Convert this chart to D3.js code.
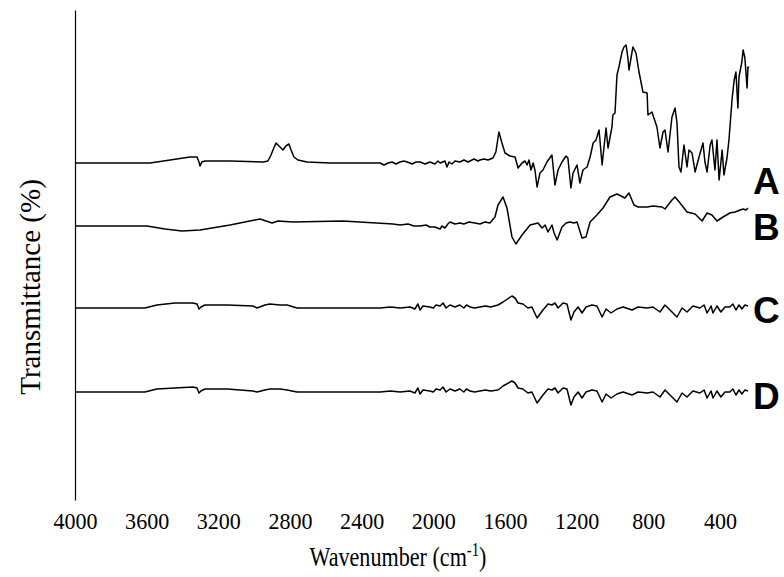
<!DOCTYPE html>
<html>
<head>
<meta charset="utf-8">
<script src="https://cdn.jsdelivr.net/npm/d3@7"></script>
<style>
  body { margin: 0; background: #fff; }
  svg { display: block; }
</style>
</head>
<body>
<svg id="chart"></svg>
<script>
// FTIR spectra, [wavenumber, offset transmittance (arb.)]
const spectrumA = [
  [4000,337],[3581,337],[3469,340],[3358,343],[3319,343],[3308,338],[3302,334],[3292,338],[3275,339],
  [3135,339],[2950,338],[2923,339],[2906,345],[2895,350],[2878,357],[2861,354],[2839,350],[2823,354],
  [2806,356],[2794,350],[2778,343],[2756,340],[2705,338],[2577,337],[2297,337],[2275,335],[2253,337],
  [2231,338],[2208,336],[2186,338],[2164,339],[2130,337],[2119,336],[2097,338],[2074,338],[2046,336],
  [2019,338],[1991,336],[1974,339],[1962,337],[1935,339],[1924,333],[1912,338],[1896,336],[1879,339],
  [1852,338],[1829,340],[1806,338],[1795,339],[1773,341],[1751,339],[1740,340],[1717,341],[1695,340],
  [1667,342],[1651,348],[1634,368],[1617,357],
  [1600,347],[1572,344],[1544,343],[1527,332],[1505,337],[1488,339],[1477,335],[1466,340],[1455,330],
  [1443,337],[1433,330],[1421,313],[1405,327],[1388,330],[1366,338],[1338,345],[1321,315],[1304,330],
  [1282,338],[1259,344],[1249,342],[1232,312],[1220,327],[1198,335],[1182,317],[1165,330],[1142,333],
  [1125,343],[1108,357],[1092,360],[1075,370],[1058,335],[1036,372],[1025,352],[1003,373],[998,385],
  [986,387],[975,425],[964,433],[947,448],[936,453],[924,455],[914,442],[908,430],[891,448],
  [886,453],[869,447],[852,428],[830,408],[807,407],[802,385],[780,388],[752,373],[735,352],[718,368],
  [707,370],[690,348],[668,383],[651,392],[640,377],[629,333],[618,328],[601,355],[584,333],[573,350],
  [556,347],[539,328],[517,343],[495,357],[484,338],[472,328],[455,355],[445,360],[428,330],[417,360],
  [405,320],[388,350],[378,325],[361,342],[350,360],[333,400],[321,420],[311,428],[300,392],[294,423],
  [278,438],[271,450],[261,442],[249,412],[244,433],[238,432]
];

const spectrumB = [
  [4000,274],[3598,274],[3498,271],[3402,269],[3302,270],[3135,275],[3024,279],[2967,281],[2934,279],
  [2900,277],[2867,279],[2783,278],[2505,279],[2225,276],[2186,275],[2141,276],[2108,274],[2074,274],
  [2041,275],[2019,273],[1991,273],[1962,271],[1952,274],[1935,272],[1919,276],[1907,278],[1879,276],
  [1852,277],[1830,276],[1800,278],[1768,277],[1740,276],[1712,278],[1684,277],[1656,283],[1639,295],
  [1611,303],[1589,292],[1561,263],[1539,256],[1505,265],[1460,275],[1416,277],[1393,272],[1376,275],
  [1360,268],[1338,275],[1326,267],[1309,260],[1282,273],[1259,277],[1237,278],[1215,277],[1198,278],
  [1170,262],[1148,263],[1125,278],[1087,285],[1053,292],[1014,303],[975,306],[931,302],[908,307],
  [880,295],[857,293],[807,293],[774,294],[723,293],[707,291],[668,300],[651,303],[623,297],[584,288],
  [539,286],[500,279],[472,287],[445,285],[417,279],[383,283],[345,287],[316,288],[288,290],[271,291],
  [254,290],[244,292]
];

const spectrumC = [
  [4000,192],[3610,192],[3543,195],[3442,197],[3342,197],[3319,196],[3308,191],[3297,193],[3275,195],
  [3151,195],[3007,194],[2984,192],[2940,195],[2912,196],[2856,195],[2816,195],[2761,192],[2297,192],
  [2240,193],[2186,192],[2130,193],[2103,191],[2086,196],[2074,190],[2058,194],[2019,193],[2000,192],
  [1985,195],[1962,194],[1946,197],[1929,192],[1907,195],[1879,193],[1852,195],[1830,192],[1815,195],
  [1795,193],[1770,192],[1740,193],[1710,194],[1680,193],[1639,195],[1611,198],[1561,204],
  [1544,202],[1527,197],[1500,196],[1472,192],[1450,193],[1421,182],[1388,190],[1360,196],[1338,195],
  [1321,197],[1304,192],[1276,197],[1254,196],[1232,180],[1215,188],[1192,193],[1170,187],[1148,193],
  [1115,195],[1087,194],[1058,183],[1036,191],[1008,187],[975,191],[941,193],[891,190],[857,193],
  [807,192],[774,193],[735,188],[707,195],[679,190],[640,183],[612,192],[584,188],[551,194],[512,192],
  [489,195],[472,187],[450,194],[439,187],[417,194],[395,188],[372,193],[345,193],[328,196],[311,190],
  [294,195],[278,191],[261,195],[244,194]
];

const spectrumD = [
  [4000,108],[3610,108],[3543,111],[3442,112],[3342,113],[3319,112],[3308,107],[3297,109],[3275,111],
  [3151,111],[3007,109],[2984,108],[2940,110],[2912,111],[2856,111],[2816,110],[2761,108],[2297,108],
  [2240,109],[2186,108],[2130,109],[2103,107],[2086,112],[2074,106],[2058,110],[2019,109],[2000,108],
  [1985,111],[1962,110],[1946,113],[1929,108],[1907,111],[1879,109],[1852,111],[1830,108],[1815,111],
  [1795,109],[1770,108],[1740,109],[1710,110],[1680,109],[1639,110],[1611,114],[1561,119],
  [1544,117],[1527,112],[1500,111],[1472,107],[1450,108],[1421,97],[1388,105],[1360,111],[1338,110],
  [1321,112],[1304,107],[1276,112],[1254,111],[1232,95],[1215,103],[1192,108],[1170,102],[1148,108],
  [1115,110],[1087,109],[1058,98],[1036,106],[1008,102],[975,106],[941,108],[891,105],[857,108],
  [807,107],[774,108],[735,103],[707,110],[679,105],[640,98],[612,107],[584,103],[551,109],[512,107],
  [489,110],[472,102],[450,109],[439,102],[417,109],[395,103],[372,108],[345,108],[328,111],[311,105],
  [294,110],[278,106],[261,110],[244,109]
];

const seriesNames = ["A", "B", "C", "D"];
const xTicks = [4000, 3600, 3200, 2800, 2400, 2000, 1600, 1200, 800, 400];

document.addEventListener('DOMContentLoaded', function () {
    const W = 784, H = 577;
    const margin = { top: 10, right: 64, bottom: 77, left: 75 };
    const serif = "'Liberation Serif', 'Times New Roman', serif";

    const svg = d3.select("#chart")
        .attr("width", W)
        .attr("height", H);

    const x = d3.scaleLinear()
        .domain([4000, 400])
        .range([margin.left, W - margin.right]);

    const y = d3.scaleLinear()
        .domain([0, 490])
        .range([H - margin.bottom, margin.top]);

    const line = d3.line()
        .x(d => x(d[0]))
        .y(d => y(d[1]));

    // y axis, no ticks
    svg.append("g")
        .attr("transform", `translate(${margin.left},0)`)
        .call(d3.axisLeft(y).tickValues([]).tickSizeOuter(0))
        .select(".domain")
        .attr("stroke", "#000")
        .attr("stroke-width", 1.2);

    // x tick labels only (no axis line in the figure)
    const xAxis = svg.append("g")
        .attr("transform", "translate(0,529)")
        .call(d3.axisBottom(x).tickValues(xTicks).tickSize(0).tickFormat(d3.format("d")));
    xAxis.select(".domain").remove();
    xAxis.selectAll("text")
        .attr("y", 0)
        .attr("dy", 0)
        .attr("transform", "scale(0.92,1)")
        .attr("font-family", serif)
        .attr("font-size", 24)
        .attr("fill", "#000");

    const spectra = [spectrumA, spectrumB, spectrumC, spectrumD];
    const labelDrop = [31, 14, 15, 17];
    spectra.forEach((s, i) => {
        svg.append("path")
            .datum(s)
            .attr("d", line)
            .attr("fill", "none")
            .attr("stroke", "#000")
            .attr("stroke-width", 1.5)
            .attr("stroke-linejoin", "round");

        svg.append("text")
            .attr("x", 753)
            .attr("y", y(s[0][1]) + labelDrop[i])
            .attr("font-family", "'Liberation Sans', Arial, sans-serif")
            .attr("font-weight", "bold")
            .attr("font-size", 37)
            .text(seriesNames[i]);
    });

    // axis titles
    svg.append("text")
        .attr("transform", "translate(40,287) rotate(-90)")
        .attr("text-anchor", "middle")
        .attr("font-family", serif)
        .attr("font-size", 29)
        .text("Transmittance (%)");

    const xt = svg.append("text")
        .attr("transform", "translate(398,566) scale(0.82,1)")
        .attr("text-anchor", "middle")
        .attr("font-family", serif)
        .attr("font-size", 27);
    xt.append("tspan").text("Wavenumber (cm");
    xt.append("tspan").attr("dy", -10).attr("font-size", 18).text("-1");
    xt.append("tspan").attr("dy", 10).text(")");
});
</script>
</body>
</html>
